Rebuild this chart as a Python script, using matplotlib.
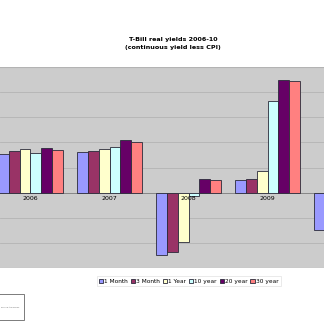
import matplotlib.pyplot as plt
from matplotlib.patches import Rectangle
import numpy as np

years = ['2006', '2007', '2008', '2009', '2010']
series = ['1 Month', '3 Month', '1 Year', '10 year', '20 year', '30 year']
colors = ['#9999ff', '#993366', '#ffffcc', '#ccffff', '#660066', '#ff8080']

# real yields per maturity, one list per year group
m1 = [1.55, 1.61, -2.49, 0.50, -1.47]
m3 = [1.64, 1.67, -2.36, 0.54, -1.20]
y1 = [1.74, 1.72, -1.95, 0.88, -1.00]
y10 = [1.59, 1.83, -0.14, 3.64, 1.20]
y20 = [1.79, 2.09, 0.55, 4.48, 1.60]
y30 = [1.70, 2.03, 0.49, 4.45, 1.50]
values = [m1, m3, y1, y10, y20, y30]


def main():
    fig = plt.figure(figsize=(3.24, 3.22), dpi=100)
    ax = fig.add_axes([0.0, 0.1677, 1.0, 0.6242])
    ax.set_facecolor('#cccccc')

    x = np.arange(len(years))
    w = 0.136
    for i, (vals, c, name) in enumerate(zip(values, colors, series)):
        ax.bar(x + (i - 2.5) * w, vals, w, color=c, edgecolor='#2a2a3a',
               linewidth=0.6, label=name, zorder=3)

    ax.set_xlim(-0.386, 3.715)
    ax.set_ylim(-3, 5)
    ax.set_yticks(np.arange(-3, 6, 1))
    ax.grid(axis='y', color='#b4b4b4', linewidth=0.6, zorder=0)
    ax.axhline(0, color='#808080', linewidth=0.6, zorder=2)
    ax.tick_params(left=False, bottom=False, labelleft=False, labelbottom=False)
    for s in ax.spines.values():
        s.set_visible(False)
    ax.axhline(5, color='#b0b0b0', linewidth=0.8, zorder=1)
    ax.axhline(-3, color='#b0b0b0', linewidth=0.8, zorder=1)

    # year labels sit just under the zero line; the last group runs off the edge
    lo, hi = ax.get_xlim()
    for xi, yr in zip(x, years):
        if lo < xi < hi:
            ax.text(xi, -0.15, yr, ha='center', va='top', fontsize=4.5, zorder=4)

    fig.text(0.534, 0.878, 'T-Bill real yields 2006-10', ha='center',
             va='center', fontsize=4.6, fontweight='bold')
    fig.text(0.534, 0.853, '(continuous yield less CPI)', ha='center',
             va='center', fontsize=4.6, fontweight='bold')

    leg = fig.legend(loc='center', bbox_to_anchor=(0.582, 0.127), ncol=6,
                     fontsize=4.2, frameon=True, handlelength=0.7,
                     handleheight=0.7, handletextpad=0.2, columnspacing=0.5,
                     borderpad=0.4, fancybox=False)
    leg.get_frame().set_edgecolor('#e0e0e0')
    leg.get_frame().set_linewidth(0.6)

    # small source box in the lower-left corner
    fig.add_artist(Rectangle((-0.01, 0.006), 0.084, 0.081,
                             transform=fig.transFigure, facecolor='white',
                             edgecolor='#666666', linewidth=0.6))
    fig.text(0.003, 0.047, 'source: treas.gov', fontsize=1.5, style='italic',
             va='center', color='#666666')

    fig.savefig('out.png', dpi=100)


if __name__ == '__main__':
    main()
